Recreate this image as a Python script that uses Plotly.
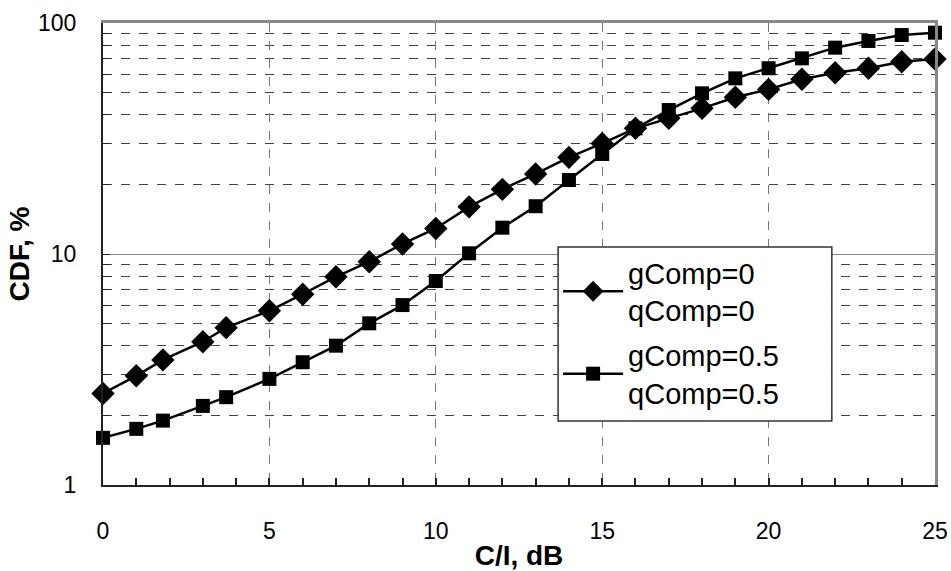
import plotly.graph_objects as go

ci_db = [0, 1, 1.8, 3, 3.7, 5, 6, 7, 8, 9, 10, 11, 12, 13, 14, 15, 16, 17, 18, 19, 20, 21, 22, 23, 24, 25]
cdf_comp0 = [2.49, 2.97, 3.48, 4.17, 4.80, 5.68, 6.7, 7.97, 9.26, 11.05, 12.9, 16.0, 19.05, 22.2, 26.2, 30.1,
             35.0, 38.7, 42.7, 47.7, 51.6, 57.1, 60.9, 63.7, 68.0, 69.8]
cdf_comp05 = [1.60, 1.75, 1.90, 2.20, 2.40, 2.88, 3.40, 4.01, 5.01, 6.01, 7.64, 10.07, 13.0, 16.1, 20.9, 27.1,
              35.0, 42.0, 49.6, 57.6, 63.7, 70.3, 78.2, 83.6, 88.7, 90.8]
series_names = ["gComp=0<br>qComp=0", "gComp=0.5<br>qComp=0.5"]
x_ticks = [0, 5, 10, 15, 20, 25]
y_ticks = [1, 10, 100]
y_tick_labels = ["1", "10", "100"]

FONT = "Liberation Sans, Arial, sans-serif"

fig = go.Figure()
fig.add_trace(go.Scatter(x=ci_db, y=cdf_comp0, mode="lines+markers", name=series_names[0],
                         legendgroup="a", cliponaxis=False,
                         line=dict(color="black", width=2.5),
                         marker=dict(symbol="diamond", size=18, color="black")))
fig.add_trace(go.Scatter(x=ci_db, y=cdf_comp05, mode="lines+markers", name=series_names[1],
                         legendgroup="b", cliponaxis=False,
                         line=dict(color="black", width=2.5),
                         marker=dict(symbol="square", size=14, color="black")))

fig.update_layout(
    width=951, height=571,
    margin=dict(l=103, r=16, t=23, b=86),
    plot_bgcolor="white", paper_bgcolor="white",
    font=dict(family=FONT, color="black"),
    showlegend=True,
    legend=dict(x=0.547, y=0.515, xanchor="left", yanchor="top",
                bgcolor="rgba(0,0,0,0)", borderwidth=0,
                font=dict(size=29, family=FONT), itemwidth=60,
                tracegroupgap=4, traceorder="grouped"),
    # legend frame (wider than Plotly's auto box, as in the original)
    shapes=[dict(type="rect", xref="paper", yref="paper", x0=0.547, x1=0.876, y0=0.1385, y1=0.515,
                 fillcolor="white", line=dict(color="#333333", width=1.5), layer="above")],
    xaxis=dict(range=[0, 25], tickvals=x_ticks, showline=True, linecolor="#222222", linewidth=2,
               ticks="inside", ticklen=0, showgrid=True, gridcolor="#777777", griddash="dash", gridwidth=1,
               tickfont=dict(size=23), ticklabelstandoff=24, zeroline=False, automargin=False,
               minor=dict(dtick=1, ticks="inside", ticklen=7, tickwidth=1.5, tickcolor="#222222", showgrid=False),
               title=dict(text="<b>C/I, dB</b>", font=dict(size=28), standoff=10)),
    yaxis=dict(type="log", range=[0, 2], tickvals=y_ticks, ticktext=y_tick_labels,
               showline=True, linecolor="#222222", linewidth=2,
               ticks="inside", ticklen=7, tickcolor="#222222",
               showgrid=True, gridcolor="#888888", gridwidth=1.2, zeroline=False, automargin=False,
               tickfont=dict(size=23), ticklabelstandoff=20,
               minor=dict(dtick="D1", ticks="inside", ticklen=7, tickcolor="#222222",
                          showgrid=True, gridcolor="#444444", griddash="dash", gridwidth=1),
               title=dict(text="<b>CDF, %</b>", font=dict(size=28), standoff=0)),
    xaxis2=dict(overlaying="x", side="top", range=[0, 25], showline=True, linecolor="#888888",
                linewidth=2.5, showticklabels=False, ticks="", showgrid=False, zeroline=False),
    yaxis2=dict(overlaying="y", side="right", type="log", range=[0, 2], showline=True, linecolor="#888888",
                linewidth=2.5, showticklabels=False, ticks="", showgrid=False, zeroline=False),
)
# invisible helper trace so the top/right frame axes are drawn
fig.add_trace(go.Scatter(x=[ci_db[0]], y=[cdf_comp0[0]], xaxis="x2", yaxis="y2", mode="markers",
                         marker=dict(opacity=0), showlegend=False, hoverinfo="skip"))

fig.write_html("out.html")
